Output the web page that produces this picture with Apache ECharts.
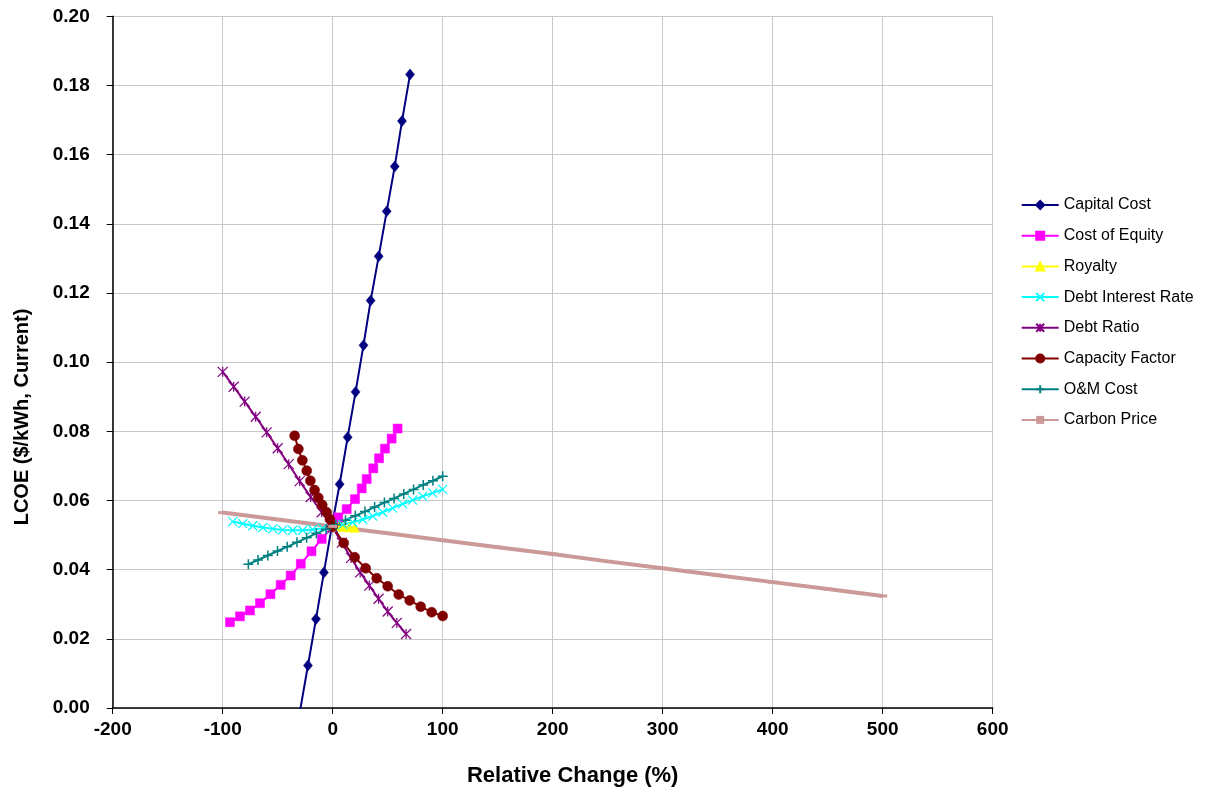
<!DOCTYPE html>
<html>
<head>
<meta charset="utf-8">
<script src="https://cdn.jsdelivr.net/npm/echarts@6/dist/echarts.min.js"></script>
<style>
html,body{margin:0;padding:0;background:#fff;}
#chart{width:1207px;height:792px;}
</style>
</head>
<body>
<div id="chart"></div>
<script>
// ---- data (x = relative change %, y = LCOE $/kWh) ----
var seriesNames = ["Capital Cost","Cost of Equity","Royalty","Debt Interest Rate","Debt Ratio","Capacity Factor","O&M Cost","Carbon Price"];

var capitalX = [-29.8,-22.5,-15.2,-8,-0.8,6.3,13.6,20.8,28,34.5,41.8,49.1,56.4,63,70.3];
var capitalY = [-0.0010,0.0123,0.0257,0.0392,0.0525,0.0647,0.0783,0.0914,0.1049,0.1178,0.1306,0.1436,0.1566,0.1697,0.1832];

var equityX = [-93.4,-84.3,-75.2,-66.1,-56.6,-47.3,-38.2,-29,-19.3,-10,0,5.1,12.7,20.3,26.4,30.9,36.9,42.1,47.5,53.6,59];
var equityY = [0.0248,0.0265,0.0282,0.0303,0.0329,0.0356,0.0383,0.0417,0.0453,0.0489,0.0525,0.0551,0.0575,0.0604,0.0635,0.0662,0.0693,0.0722,0.0750,0.0779,0.0808];

var royaltyX = [0,5,10,15,20];
var royaltyY = [0.0525,0.0524,0.0523,0.0522,0.0521];

var interestX = [-90.9,-81.8,-72.7,-63.6,-54.5,-45.5,-36.4,-27.3,-18.2,-9.1,0,9.1,18.2,27.3,36.4,45.5,54.5,63.6,72.7,81.8,90.9,100];
var interestY = [0.0539,0.0533,0.0527,0.0522,0.0518,0.0515,0.0514,0.0514,0.0516,0.0520,0.0525,0.0530,0.0537,0.0545,0.0555,0.0566,0.0578,0.0590,0.0601,0.0612,0.0622,0.0632];

var debtRatioX = [-100,-90,-80,-70,-60,-50,-40,-30,-20,-10,0,8.3,16.7,25,33.3,41.7,50,58.3,66.7];
var debtRatioY = [0.0972,0.0929,0.0886,0.0842,0.0797,0.0751,0.0705,0.0656,0.0610,0.0566,0.0522,0.0478,0.0434,0.0392,0.0354,0.0316,0.0279,0.0246,0.0214];

var capFactorX = [-34.6,-31.2,-27.6,-23.6,-20.3,-16.5,-13.1,-9.5,-5.5,-2.5,0,10,20,30,40,50,60,70,80,90,100];
var capFactorY = [0.0787,0.0749,0.0716,0.0686,0.0657,0.0630,0.0608,0.0587,0.0566,0.0546,0.0525,0.0477,0.0436,0.0404,0.0375,0.0352,0.0328,0.0311,0.0293,0.0277,0.0266];

var omX = [-76.7,-67.9,-59,-50.2,-41.4,-32.5,-23.7,-14.9,-6,2.8,11.6,20.5,29.3,38.1,47,55.8,64.6,73.5,82.3,91.1,100];
var omY = [0.0416,0.0428,0.0441,0.0454,0.0466,0.0479,0.0492,0.0505,0.0517,0.0530,0.0543,0.0556,0.0568,0.0581,0.0594,0.0606,0.0619,0.0632,0.0645,0.0657,0.0670];

var carbonX = [-100,-50,0,50,100,150,200,250,300,350,400,450,500];
var carbonY = [0.0565,0.0545,0.0525,0.0505,0.0485,0.0465,0.0445,0.0424,0.0404,0.0384,0.0364,0.0344,0.0324];

var xTicks = {min:-200, max:600, step:100};
var yTicks = {min:0, max:0.20, step:0.02};
var xTitle = 'Relative Change (%)';
var yTitle = 'LCOE ($/kWh, Current)';

function pairs(xs, ys){ return xs.map(function(x,i){ return [x, ys[i]]; }); }

var FONT = 'Arial, "Liberation Sans", sans-serif';

function mk(name, xs, ys, color, symbol, size, lw, bw){
  return {
    name: name, type: 'line', data: pairs(xs, ys),
    symbol: symbol, symbolSize: size, showSymbol: true,
    lineStyle: {color: color, width: lw},
    itemStyle: {color: color, borderColor: color, borderWidth: bw, opacity: 1},
    emphasis: {disabled: true},
    clip: true, animation: false, z: 2
  };
}

var SYM_X = 'path://M0,0L10,10M10,0L0,10';
var SYM_STAR = 'path://M0,0L10,10M10,0L0,10M5,0L5,10';
var SYM_PLUS = 'path://M5,0L5,10M0,5L10,5';

var series = [
  mk(seriesNames[0], capitalX, capitalY, '#000080', 'diamond', [9,11], 2, 0.5),
  mk(seriesNames[1], equityX, equityY, '#FF00FF', 'rect', 9, 2, 0.5),
  mk(seriesNames[2], royaltyX, royaltyY, '#FFFF00', 'triangle', 9, 2, 0.5),
  mk(seriesNames[3], interestX, interestY, '#00FFFF', SYM_X, 9, 2, 1.2),
  mk(seriesNames[4], debtRatioX, debtRatioY, '#800080', SYM_STAR, 10, 2, 1.2),
  mk(seriesNames[5], capFactorX, capFactorY, '#800000', 'circle', 10, 2, 0.5),
  mk(seriesNames[6], omX, omY, '#008080', SYM_PLUS, 10, 2, 1.5),
  mk(seriesNames[7], carbonX, carbonY, '#CC9999', 'rect', [9,3], 4, 0)
];

var chart = echarts.init(document.getElementById('chart'), null, {renderer: 'canvas'});
chart.setOption({
  animation: false,
  backgroundColor: '#ffffff',
  grid: {left: 112.7, right: 214.3, top: 16.3, bottom: 82.7, containLabel: false},
  legend: {
    show: true, orient: 'vertical', left: 1015.7, top: 192,
    itemWidth: 37, itemHeight: 10, itemGap: 14.7,
    data: seriesNames,
    textStyle: {fontFamily: FONT, fontSize: 16, color: '#000'},
    selectedMode: false
  },
  graphic: [{
    type: 'text', z: 10,
    x: 22, y: 417, rotation: Math.PI / 2,
    style: {text: yTitle, font: 'bold 20px ' + FONT, fill: '#000', align: 'center', verticalAlign: 'middle'}
  }],
  xAxis: {
    type: 'value', min: xTicks.min, max: xTicks.max, interval: xTicks.step,
    name: xTitle, nameLocation: 'middle', nameGap: 57,
    nameTextStyle: {fontFamily: FONT, fontSize: 22, fontWeight: 'bold', color: '#000', padding: [0, 0, 0, 40]},
    axisLine: {show: true, onZero: false, lineStyle: {color: '#000', width: 1.5}},
    axisTick: {show: true, inside: false, length: 6, lineStyle: {color: '#000', width: 1}},
    axisLabel: {fontFamily: FONT, fontSize: 19, fontWeight: 'bold', color: '#000', margin: 12},
    splitLine: {show: true, lineStyle: {color: '#C8C8C8', width: 1}}
  },
  yAxis: {
    type: 'value', min: yTicks.min, max: yTicks.max, interval: yTicks.step,
    axisLine: {show: true, onZero: false, lineStyle: {color: '#000', width: 1.5}},
    axisTick: {show: true, inside: false, length: 6, lineStyle: {color: '#000', width: 1}},
    axisLabel: {fontFamily: FONT, fontSize: 19, fontWeight: 'bold', color: '#000', margin: 23,
      formatter: function(v){ return v.toFixed(2); }},
    splitLine: {show: true, lineStyle: {color: '#C8C8C8', width: 1}}
  },
  series: series
});
</script>
</body>
</html>
